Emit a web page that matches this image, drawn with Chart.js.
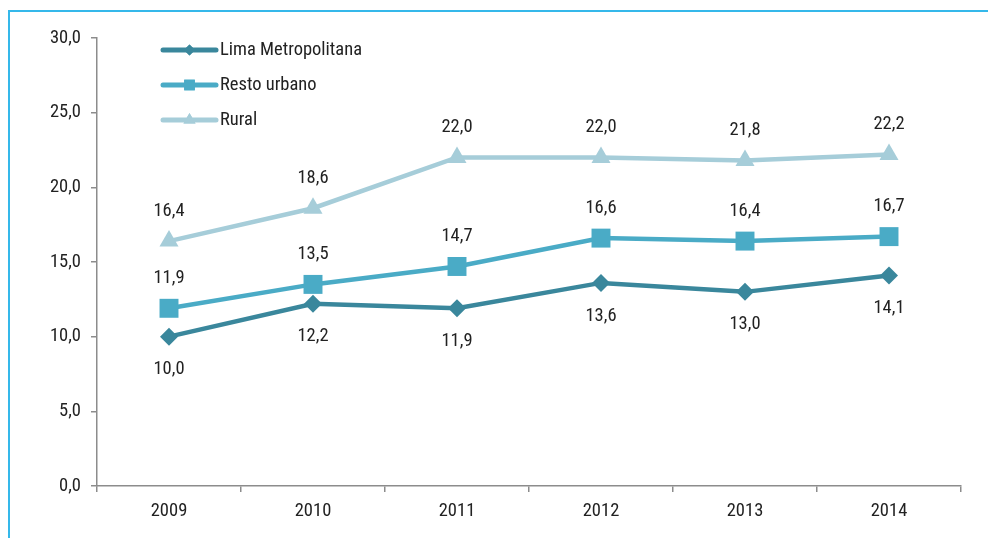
<!DOCTYPE html>
<html>
<head>
<meta charset="utf-8">
<script src="https://cdn.jsdelivr.net/npm/chart.js@4/dist/chart.umd.min.js"></script>
<style>
  html, body { margin: 0; padding: 0; background: #fff; }
  #wrap { position: relative; width: 988px; height: 538px; }
  #frame { position: absolute; left: 8px; top: 10px; right: 0; bottom: 0; border-left: 2px solid #35b8ea; border-top: 2px solid #35b8ea; pointer-events: none; }
  canvas { position: absolute; left: 0; top: 0; }
</style>
</head>
<body>
<div id="wrap">
  <canvas id="c" width="988" height="538"></canvas>
  <div id="frame"></div>
</div>
<script>
const categories = ['2009', '2010', '2011', '2012', '2013', '2014'];
const limaMetropolitana = [10.0, 12.2, 11.9, 13.6, 13.0, 14.1];
const restoUrbano = [11.9, 13.5, 14.7, 16.6, 16.4, 16.7];
const rural = [16.4, 18.6, 22.0, 22.0, 21.8, 22.2];
const seriesNames = ['Lima Metropolitana', 'Resto urbano', 'Rural'];
const yTicks = [0, 5, 10, 15, 20, 25, 30];

const FONT = "'Roboto Condensed', 'Liberation Sans Narrow', sans-serif";
const FSIZE = 18.5;
const fmt = v => v.toFixed(1).replace('.', ',');

const colors = ['#3a879c', '#4aabc6', '#a6cdd9'];
const styles = ['rectRot', 'rect', 'triangle'];
const radii = [9, 13.4, 11];
const legendRadii = [5.5, 7.5, 7];
const labelOffsets = [33, -30, -30];

const labelPlugin = {
  id: 'valueLabels',
  afterDatasetsDraw(chart) {
    const ctx = chart.ctx;
    ctx.save();
    ctx.font = FSIZE + 'px ' + FONT;
    ctx.fillStyle = '#222';
    ctx.textAlign = 'center';
    ctx.textBaseline = 'middle';
    chart.data.datasets.forEach((ds, i) => {
      const meta = chart.getDatasetMeta(i);
      meta.data.forEach((pt, j) => {
        ctx.fillText(fmt(ds.data[j]), pt.x, pt.y + labelOffsets[i]);
      });
    });
    ctx.restore();
  }
};

const legendPlugin = {
  id: 'insideLegend',
  afterDraw(chart) {
    const ctx = chart.ctx;
    ctx.save();
    const x0 = 163, x1 = 216, ys = [50, 85, 120];
    chart.data.datasets.forEach((ds, i) => {
      const y = ys[i];
      ctx.strokeStyle = ds.borderColor;
      ctx.lineWidth = 5;
      ctx.lineCap = 'round';
      ctx.beginPath();
      ctx.moveTo(x0, y);
      ctx.lineTo(x1, y);
      ctx.stroke();
      ctx.fillStyle = ds.borderColor;
      Chart.helpers.drawPoint(ctx, { pointStyle: styles[i], radius: legendRadii[i], rotation: 0, borderWidth: 0 }, (x0 + x1) / 2, y);
      ctx.fill();
      ctx.fillStyle = '#222';
      ctx.font = FSIZE + 'px ' + FONT;
      ctx.textAlign = 'left';
      ctx.textBaseline = 'middle';
      ctx.fillText(ds.label, x1 + 4, y);
    });
    ctx.restore();
  }
};

const datasets = [limaMetropolitana, restoUrbano, rural].map((d, i) => ({
  label: seriesNames[i],
  data: d,
  borderColor: colors[i],
  backgroundColor: colors[i],
  borderWidth: 4.5,
  pointStyle: styles[i],
  pointRadius: radii[i],
  pointBorderWidth: 0,
  pointBackgroundColor: colors[i],
  tension: 0,
  clip: false
}));

new Chart(document.getElementById('c'), {
  type: 'line',
  data: { labels: categories, datasets: datasets },
  options: {
    responsive: false,
    animation: false,
    layout: { padding: { left: 0, top: 38, right: 27, bottom: 0 } },
    plugins: { legend: { display: false }, tooltip: { enabled: false } },
    scales: {
      x: {
        offset: true,
        grid: { offset: true, drawOnChartArea: false, drawTicks: true, tickLength: 6, color: '#8c8c8c', lineWidth: 1.5 },
        border: { color: '#8c8c8c', width: 1.5 },
        ticks: { color: '#222', font: { family: FONT, size: FSIZE }, padding: 8 },
        afterFit(scale) { scale.height = 52; }
      },
      y: {
        min: 0, max: 30,
        afterBuildTicks(scale) { scale.ticks = yTicks.map(v => ({ value: v })); },
        grid: { drawOnChartArea: false, drawTicks: true, tickLength: 6, color: '#8c8c8c', lineWidth: 1.5 },
        border: { color: '#8c8c8c', width: 1.5 },
        ticks: { color: '#222', font: { family: FONT, size: FSIZE }, padding: 10, callback: v => fmt(v) },
        afterFit(scale) { scale.width = 97; }
      }
    }
  },
  plugins: [labelPlugin, legendPlugin]
});
</script>
</body>
</html>
